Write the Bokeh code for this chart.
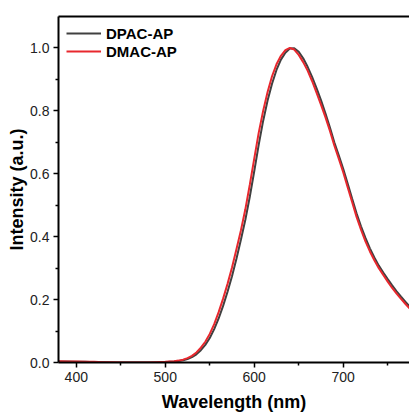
from bokeh.plotting import figure
from bokeh.models import Range1d, FixedTicker, LinearAxis, PrintfTickFormatter, Legend, LegendItem
from bokeh.embed import file_html
from bokeh.resources import INLINE

wavelength = [380, 390, 400, 410, 420, 430, 440, 450, 460, 470, 480, 490, 500,
              505, 510, 515, 520, 525, 530, 535, 540, 545, 550, 555, 560, 565, 570,
              575, 580, 585, 590, 595, 600, 605, 610, 615, 620, 625, 630, 635, 640,
              645, 650, 655, 660, 665, 670, 675, 680, 685, 690, 695, 700, 705, 710,
              715, 720, 725, 730, 735, 740, 745, 750, 755, 760, 765, 770, 775, 780]

dmac_ap = [0.004, 0.003, 0.003, 0.002, 0.002, 0.001, 0.001, 0.000, 0.000, 0.000, 0.000, 0.001, 0.002,
           0.003, 0.004, 0.006, 0.009, 0.014, 0.021, 0.032, 0.047, 0.066, 0.091, 0.122, 0.160, 0.203, 0.250,
           0.302, 0.360, 0.420, 0.487, 0.565, 0.648, 0.730, 0.800, 0.860, 0.910, 0.948, 0.975, 0.993, 1.000,
           0.995, 0.978, 0.955, 0.928, 0.895, 0.858, 0.820, 0.780, 0.737, 0.690, 0.648, 0.605, 0.557, 0.510,
           0.463, 0.422, 0.385, 0.353, 0.325, 0.300, 0.278, 0.257, 0.237, 0.219, 0.202, 0.186, 0.171, 0.157]

dpac_ap = [0.003, 0.003, 0.002, 0.002, 0.001, 0.001, 0.000, 0.000, 0.000, 0.000, 0.000, 0.000, 0.001,
           0.002, 0.003, 0.005, 0.007, 0.011, 0.017, 0.026, 0.039, 0.056, 0.078, 0.106, 0.140, 0.180, 0.225,
           0.274, 0.330, 0.390, 0.454, 0.527, 0.608, 0.692, 0.768, 0.833, 0.886, 0.930, 0.963, 0.985, 0.998,
           0.999, 0.988, 0.967, 0.940, 0.908, 0.872, 0.834, 0.792, 0.748, 0.700, 0.659, 0.616, 0.569, 0.521,
           0.474, 0.433, 0.396, 0.363, 0.334, 0.308, 0.286, 0.265, 0.245, 0.226, 0.209, 0.193, 0.177, 0.163]

x_major = [400, 500, 600, 700, 800]
x_minor = [450, 550, 650, 750]
y_major = [0.0, 0.2, 0.4, 0.6, 0.8, 1.0]
y_minor = [0.1, 0.3, 0.5, 0.7, 0.9]

FONT = "Liberation Sans"

p = figure(width=409, height=415, output_backend="svg", toolbar_location=None,
           x_range=Range1d(380, 774.5), y_range=Range1d(0, 1.1),
           min_border_left=58, min_border_right=0, min_border_top=16, min_border_bottom=53)
p.outline_line_color = None
p.xgrid.visible = False
p.ygrid.visible = False
p.background_fill_color = "white"

r_black = p.line(wavelength, dpac_ap, line_color="#404040", line_width=2)
r_red = p.line(wavelength, dmac_ap, line_color="#e8282e", line_width=2)

for ax in (p.xaxis[0], p.yaxis[0]):
    ax.axis_line_width = 2
    ax.axis_line_color = "black"
    ax.major_tick_line_width = 1.5
    ax.minor_tick_line_width = 1.5
    ax.major_tick_line_color = "black"
    ax.minor_tick_line_color = "black"
    ax.major_tick_in = 0
    ax.major_tick_out = 5
    ax.minor_tick_in = 0
    ax.minor_tick_out = 3
    ax.major_label_text_font = FONT
    ax.major_label_text_font_size = "14px"
    ax.major_label_text_color = "#222222"
    ax.major_label_standoff = 4
    ax.axis_label_text_font = FONT
    ax.axis_label_text_font_size = "18px"
    ax.axis_label_text_font_style = "bold"
    ax.axis_label_text_color = "black"

p.xaxis[0].ticker = FixedTicker(ticks=x_major, minor_ticks=x_minor)
p.yaxis[0].ticker = FixedTicker(ticks=y_major, minor_ticks=y_minor)
p.yaxis[0].formatter = PrintfTickFormatter(format="%.1f")
p.xaxis[0].axis_label = "Wavelength (nm)"
p.yaxis[0].axis_label = "Intensity (a.u.)"
p.xaxis[0].axis_label_standoff = 7
p.yaxis[0].axis_label_standoff = 0

top = LinearAxis(ticker=FixedTicker(ticks=[]), axis_line_width=2, axis_line_color="black",
                 major_label_text_font_size="0px", major_tick_line_color=None,
                 minor_tick_line_color=None)
p.add_layout(top, "above")

legend = Legend(items=[LegendItem(label="DPAC-AP", renderers=[r_black]),
                       LegendItem(label="DMAC-AP", renderers=[r_red])],
                location="top_left")
legend.margin = 8
legend.padding = 0
legend.spacing = 0
legend.glyph_width = 35
legend.glyph_height = 18
legend.label_height = 18
legend.label_standoff = 5
legend.label_text_font = FONT
legend.label_text_font_size = "15px"
legend.label_text_font_style = "bold"
legend.label_text_color = "black"
legend.background_fill_alpha = 0
legend.border_line_color = None
p.add_layout(legend)

open("out.html", "w").write(file_html(p, INLINE))
